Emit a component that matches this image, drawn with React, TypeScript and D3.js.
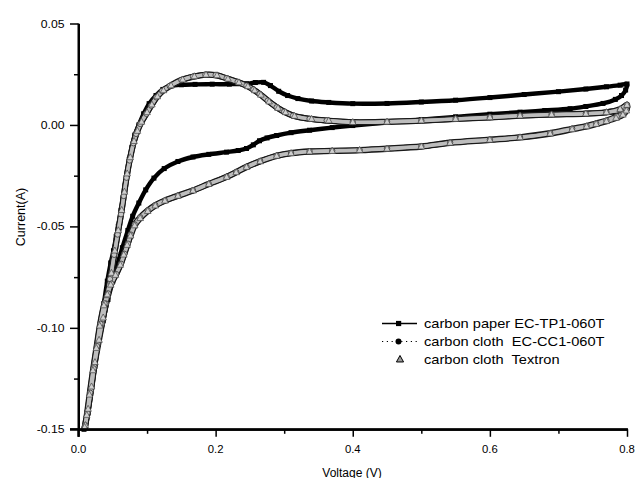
import React, { useEffect, useRef } from "react";
import * as d3 from "d3";

// ---- Data (Voltage V, Current A), each loop: anodic sweep then return ----
const paperLoop: [number, number][] = [
  [0.008, -0.150], [0.013, -0.142], [0.018, -0.131], [0.022, -0.120], [0.027, -0.109],
  [0.032, -0.099], [0.037, -0.088], [0.042, -0.077], [0.047, -0.068], [0.051, -0.062],
  [0.055, -0.055], [0.058, -0.050], [0.062, -0.042], [0.065, -0.036], [0.068, -0.030],
  [0.071, -0.024], [0.074, -0.017], [0.078, -0.011], [0.082, -0.005], [0.088, 0.000],
  [0.095, 0.0055], [0.103, 0.0105], [0.113, 0.0145], [0.123, 0.0175], [0.135, 0.0192],
  [0.150, 0.0198], [0.170, 0.0200], [0.195, 0.0201], [0.220, 0.0201], [0.245, 0.0203],
  [0.258, 0.0209], [0.270, 0.0210], [0.280, 0.0194], [0.292, 0.0166], [0.305, 0.0145],
  [0.320, 0.0130], [0.340, 0.0118], [0.365, 0.0111], [0.400, 0.0105], [0.450, 0.0106],
  [0.500, 0.0113], [0.550, 0.0122], [0.600, 0.0135], [0.650, 0.0150], [0.700, 0.0164],
  [0.740, 0.0177], [0.770, 0.0188], [0.790, 0.0196], [0.800, 0.0202],
  [0.798, 0.0172], [0.792, 0.0145], [0.783, 0.0126], [0.765, 0.0106], [0.740, 0.0091],
  [0.717, 0.0080], [0.680, 0.0071], [0.644, 0.0063], [0.600, 0.0053], [0.550, 0.0040],
  [0.500, 0.0026], [0.450, 0.0012], [0.400, -0.0003], [0.370, -0.0013], [0.337, -0.0026],
  [0.310, -0.0038], [0.289, -0.0052], [0.275, -0.0064], [0.264, -0.0078], [0.255, -0.0098],
  [0.245, -0.0116], [0.233, -0.0126], [0.216, -0.0134], [0.190, -0.0145], [0.167, -0.0158],
  [0.145, -0.0180], [0.125, -0.0215], [0.110, -0.0262], [0.098, -0.0320], [0.088, -0.0385],
  [0.079, -0.0450], [0.072, -0.0520], [0.064, -0.0605], [0.057, -0.0684], [0.050, -0.0770],
  [0.043, -0.0860], [0.036, -0.0965], [0.029, -0.1080], [0.024, -0.1190], [0.019, -0.1305],
  [0.014, -0.1420], [0.010, -0.1490],
];

const clothLoop: [number, number][] = [
  [0.009, -0.149], [0.0135, -0.141], [0.018, -0.131], [0.023, -0.119], [0.028, -0.108],
  [0.034, -0.098], [0.040, -0.088], [0.046, -0.076], [0.052, -0.064], [0.057, -0.054],
  [0.062, -0.044], [0.066, -0.035], [0.070, -0.026], [0.0745, -0.0175], [0.080, -0.009],
  [0.084, -0.0044], [0.090, 0.0005], [0.099, 0.0055], [0.106, 0.0095], [0.1135, 0.0136],
  [0.122, 0.0168], [0.133, 0.0192], [0.150, 0.0222], [0.167, 0.0238], [0.185, 0.0248],
  [0.200, 0.0246], [0.216, 0.0230], [0.232, 0.0212], [0.245, 0.0194], [0.255, 0.0175],
  [0.264, 0.0153], [0.276, 0.0120], [0.289, 0.0087], [0.300, 0.0065], [0.313, 0.0046],
  [0.337, 0.0030], [0.362, 0.0022], [0.400, 0.0014], [0.450, 0.0016], [0.500, 0.0022],
  [0.550, 0.0030], [0.600, 0.0038], [0.644, 0.0046], [0.690, 0.0052], [0.740, 0.0056],
  [0.770, 0.0063], [0.790, 0.0074], [0.800, 0.0100],
  [0.799, 0.0075], [0.795, 0.0058], [0.785, 0.0042], [0.770, 0.0022], [0.755, 0.0008],
  [0.741, -0.0005], [0.720, -0.0018], [0.688, -0.0040], [0.644, -0.0060], [0.600, -0.0072],
  [0.542, -0.0087], [0.500, -0.0105], [0.450, -0.0116], [0.410, -0.0123], [0.370, -0.0127],
  [0.337, -0.0130], [0.310, -0.0138], [0.289, -0.0151], [0.265, -0.0178], [0.245, -0.0206],
  [0.230, -0.0232], [0.216, -0.0255], [0.190, -0.0290], [0.167, -0.0322], [0.145, -0.0348],
  [0.126, -0.0372], [0.112, -0.0395], [0.101, -0.0421], [0.090, -0.0455], [0.082, -0.0490],
  [0.076, -0.0540], [0.072, -0.0585], [0.067, -0.0635], [0.062, -0.0684], [0.055, -0.0735],
  [0.048, -0.0782], [0.043, -0.0830], [0.038, -0.0880], [0.032, -0.0980], [0.027, -0.1090],
  [0.022, -0.1200], [0.017, -0.1320], [0.013, -0.1420], [0.010, -0.1480],
];

const textronLoop: [number, number][] = [
  [0.010, -0.148], [0.014, -0.140], [0.019, -0.129], [0.024, -0.117], [0.030, -0.106],
  [0.036, -0.095], [0.042, -0.084], [0.048, -0.073], [0.053, -0.062], [0.058, -0.052],
  [0.063, -0.042], [0.067, -0.033], [0.071, -0.024], [0.0755, -0.016], [0.081, -0.008],
  [0.086, -0.0030], [0.092, 0.0015], [0.100, 0.0062], [0.107, 0.0100], [0.115, 0.0140],
  [0.124, 0.0170], [0.135, 0.0194], [0.152, 0.0223], [0.169, 0.0239], [0.186, 0.0247],
  [0.202, 0.0244], [0.218, 0.0227], [0.234, 0.0209], [0.247, 0.0190], [0.257, 0.0170],
  [0.266, 0.0148], [0.278, 0.0115], [0.291, 0.0083], [0.302, 0.0062], [0.315, 0.0044],
  [0.340, 0.0029], [0.365, 0.0021], [0.400, 0.0013], [0.450, 0.0015], [0.500, 0.0021],
  [0.550, 0.0029], [0.600, 0.0037], [0.644, 0.0045], [0.690, 0.0051], [0.740, 0.0055],
  [0.770, 0.0062], [0.790, 0.0078], [0.800, 0.0098],
  [0.799, 0.0070], [0.794, 0.0050], [0.784, 0.0034], [0.770, 0.0018], [0.755, 0.0004],
  [0.741, -0.0008], [0.720, -0.0022], [0.688, -0.0043], [0.644, -0.0062], [0.600, -0.0074],
  [0.542, -0.0089], [0.500, -0.0107], [0.450, -0.0118], [0.410, -0.0125], [0.370, -0.0129],
  [0.337, -0.0132], [0.310, -0.0140], [0.289, -0.0153], [0.265, -0.0180], [0.245, -0.0208],
  [0.230, -0.0234], [0.216, -0.0257], [0.190, -0.0292], [0.167, -0.0324], [0.145, -0.0350],
  [0.126, -0.0374], [0.112, -0.0398], [0.101, -0.0425], [0.090, -0.0460], [0.082, -0.0496],
  [0.076, -0.0546], [0.071, -0.0592], [0.066, -0.0640], [0.061, -0.0690], [0.054, -0.0740],
  [0.047, -0.0788], [0.042, -0.0836], [0.037, -0.0890], [0.031, -0.0990], [0.026, -0.1100],
  [0.021, -0.1210], [0.016, -0.1330], [0.012, -0.1430], [0.009, -0.1490],
];

const xTicks = [0, 0.2, 0.4, 0.6, 0.8];
const xTickLabels = ["0.0", "0.2", "0.4", "0.6", "0.8"];
const xMinorTicks = [0.1, 0.3, 0.5, 0.7];
const yTicks = [-0.15, -0.1, -0.05, 0, 0.05];
const yTickLabels = ["-0.15", "-0.10", "-0.05", "0.00", "0.05"];
const yMinorTicks = [-0.125, -0.075, -0.025, 0.025];

const legendLabels = [
  "carbon paper EC-TP1-060T",
  "carbon cloth  EC-CC1-060T",
  "carbon cloth  Textron",
];
const xTitle = "Voltage (V)";
const yTitle = "Current(A)";

const FONT = "'Liberation Sans', Arial, Helvetica, sans-serif";

const x = d3.scaleLinear().domain([0, 0.8]).range([78.5, 627]);
const y = d3.scaleLinear().domain([-0.15, 0.05]).range([429.3, 23.5]);

export default function App() {
  const axisRef = useRef<SVGGElement | null>(null);

  const curveGen = d3
    .line<[number, number]>()
    .x((d) => x(d[0]))
    .y((d) => y(d[1]))
    .curve(d3.curveCatmullRom);

  const x0 = x(0);
  const yB = y(-0.15);
  const yT = y(0.05);
  const xR = x(0.8);

  useEffect(() => {
    if (!axisRef.current) return;
    const g = d3.select(axisRef.current);
    g.selectAll("*").remove();

    const yMajor = d3.axisLeft(y).tickValues(yTicks).tickSize(8.5).tickSizeOuter(0).tickFormat(() => "");
    const yMinor = d3.axisLeft(y).tickValues(yMinorTicks).tickSize(4.5).tickSizeOuter(0).tickFormat(() => "");
    const xMajor = d3.axisBottom(x).tickValues(xTicks).tickSize(7.5).tickSizeOuter(0).tickFormat(() => "");
    const xMinor = d3.axisBottom(x).tickValues(xMinorTicks).tickSize(4.5).tickSizeOuter(0).tickFormat(() => "");

    const gy = g.append("g").attr("transform", `translate(${x0},0)`).call(yMajor);
    g.append("g").attr("transform", `translate(${x0},0)`).call(yMinor);
    const gx = g.append("g").attr("transform", `translate(0,${yB})`).call(xMajor);
    g.append("g").attr("transform", `translate(0,${yB})`).call(xMinor);

    g.selectAll(".domain").attr("stroke", "#000").attr("stroke-width", 2);
    g.selectAll(".tick line").attr("stroke", "#000").attr("stroke-width", 1.5);
    g.selectAll(".tick text").remove();
    gy.select(".domain").attr("stroke-width", 2);
    gx.select(".domain").attr("stroke-width", 2);

    // small extensions: y axis below x axis, x axis left of y axis
    g.append("line").attr("x1", x0).attr("x2", x0).attr("y1", yB).attr("y2", yB + 7.5)
      .attr("stroke", "#000").attr("stroke-width", 2);
    g.append("line").attr("x1", x0 - 8.5).attr("x2", x0).attr("y1", yB).attr("y2", yB)
      .attr("stroke", "#000").attr("stroke-width", 2);
  }, []);

  const tri = (cx: number, cy: number, s: number) =>
    `M${cx},${cy - s * 0.62}L${cx + s * 0.55},${cy + s * 0.38}L${cx - s * 0.55},${cy + s * 0.38}Z`;

  const legendY = [323.5, 341.5, 359.5];

  return (
    <div style={{ position: "absolute", left: 0, top: 0, width: 638, height: 478, background: "#fff" }}>
      <svg width={638} height={478} style={{ display: "block" }}>
        <rect x={0} y={0} width={638} height={478} fill="#fff" />

        {/* curves: paper (black) */}
        <path d={curveGen(paperLoop) || ""} fill="none" stroke="#000" strokeWidth={4.4} strokeLinejoin="round" />
        {paperLoop.map((d, i) => (
          <rect key={"p" + i} x={x(d[0]) - 2.5} y={y(d[1]) - 2.5} width={5} height={5} fill="#000" />
        ))}

        {/* cloth series (grey band with dark edges) */}
        <path d={curveGen(clothLoop) || ""} fill="none" stroke="#1a1a1a" strokeWidth={6} strokeLinejoin="round" />
        <path d={curveGen(textronLoop) || ""} fill="none" stroke="#1a1a1a" strokeWidth={6} strokeLinejoin="round" />
        <path d={curveGen(clothLoop) || ""} fill="none" stroke="#b4b4b4" strokeWidth={3.4} strokeLinejoin="round" />
        <path d={curveGen(textronLoop) || ""} fill="none" stroke="#bdbdbd" strokeWidth={3.4} strokeLinejoin="round" />
        {clothLoop.map((d, i) => (
          <circle key={"c" + i} cx={x(d[0])} cy={y(d[1])} r={2.7} fill="#c6c6c6" stroke="#333" strokeWidth={0.8} />
        ))}
        {textronLoop.map((d, i) => (
          <path key={"t" + i} d={tri(x(d[0]), y(d[1]), 6)} fill="#d0d0d0" stroke="#444" strokeWidth={0.7} />
        ))}

        {/* axes (JSX fallback + d3 axes) */}
        <line x1={x0} x2={x0} y1={yT} y2={yB + 7.5} stroke="#000" strokeWidth={2} />
        <line x1={x0 - 8.5} x2={xR + 1} y1={yB} y2={yB} stroke="#000" strokeWidth={2} />
        <g ref={axisRef} />

        {yTicks.map((t, i) => (
          <text
            key={"yl" + i}
            transform={`translate(${64.5},${y(t) + 4}) scale(1.08,1)`}
            textAnchor="end"
            fontSize={11.3}
            fontFamily={FONT}
            fill="#000"
          >
            {yTickLabels[i]}
          </text>
        ))}
        {xTicks.map((t, i) => (
          <text key={"xl" + i} x={x(t)} y={453} textAnchor="middle" fontSize={11.3} fontFamily={FONT} fill="#000">
            {xTickLabels[i]}
          </text>
        ))}

        {/* axis titles */}
        <text x={352} y={476.5} textAnchor="middle" fontSize={12} fontFamily={FONT} fill="#000">
          {xTitle}
        </text>
        <text transform={`translate(${24.5},${217}) rotate(-90)`} textAnchor="middle" fontSize={12.5} fontFamily={FONT} fill="#000">
          {yTitle}
        </text>

        {/* legend */}
        <line x1={382} x2={417} y1={legendY[0]} y2={legendY[0]} stroke="#000" strokeWidth={1.3} />
        <rect x={396} y={legendY[0] - 2.6} width={5.2} height={5.2} fill="#000" />
        <line x1={382} x2={417} y1={legendY[1]} y2={legendY[1]} stroke="#000" strokeWidth={1.1} strokeDasharray="1.2 3.6" />
        <circle cx={398.5} cy={legendY[1]} r={3} fill="#000" />
        <path d={tri(400, legendY[2], 6.5)} fill="#9a9a9a" stroke="#000" strokeWidth={1} />
        {legendLabels.map((s, i) => (
          <text
            key={"lg" + i}
            transform={`translate(${424},${legendY[i] + 4.3}) scale(1.22,1)`}
            fontSize={12}
            fontFamily={FONT}
            fill="#000"
            style={{ whiteSpace: "pre" }}
          >
            {s}
          </text>
        ))}
      </svg>
    </div>
  );
}
